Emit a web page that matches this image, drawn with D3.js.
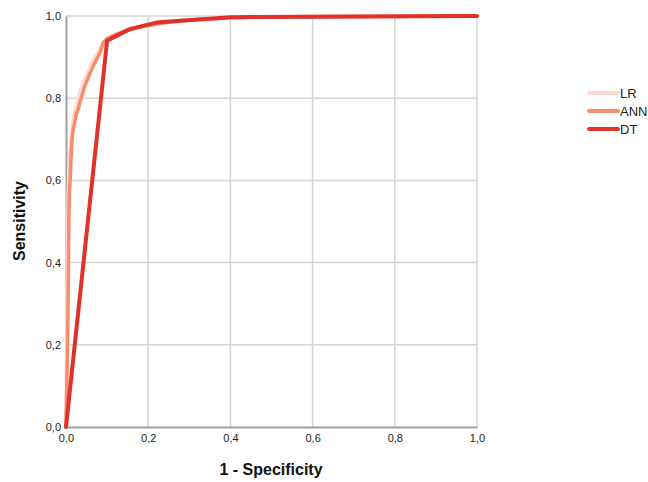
<!DOCTYPE html>
<html><head><meta charset="utf-8">
<script src="https://cdn.jsdelivr.net/npm/d3@7"></script>
<style>body{margin:0;background:#fff;overflow:hidden}svg{display:block}</style>
</head><body>
<svg id="c" width="648" height="482"></svg>
<script>
const ticks = [0, 0.2, 0.4, 0.6, 0.8, 1.0];
const seriesNames = ["LR", "ANN", "DT"];
const seriesColors = ["#fadcd2", "#f98c6c", "#e0312a"];
const lrX = [0, 0.001, 0.003, 0.004, 0.005, 0.007, 0.009, 0.012, 0.015, 0.018, 0.022, 0.027, 0.032, 0.038, 0.045, 0.052, 0.06, 0.07, 0.08, 0.09, 0.1, 0.12, 0.15, 0.19, 0.25, 0.3, 0.4, 0.5, 0.7, 1.0];
const lrY = [0, 0.12, 0.32, 0.45, 0.56, 0.62, 0.66, 0.7, 0.73, 0.75, 0.77, 0.79, 0.81, 0.83, 0.845, 0.86, 0.88, 0.9, 0.915, 0.935, 0.945, 0.955, 0.967, 0.977, 0.987, 0.991, 0.996, 0.998, 0.999, 1.0];
const annX = [0, 0.002, 0.004, 0.005, 0.006, 0.007, 0.008, 0.01, 0.012, 0.014, 0.017, 0.02, 0.025, 0.03, 0.034, 0.04, 0.046, 0.052, 0.058, 0.066, 0.072, 0.08, 0.086, 0.091, 0.1, 0.12, 0.15, 0.19, 0.25, 0.3, 0.4, 0.5, 0.7, 1.0];
const annY = [0, 0.1, 0.22, 0.3, 0.4, 0.5, 0.57, 0.6, 0.65, 0.69, 0.72, 0.735, 0.76, 0.775, 0.79, 0.81, 0.83, 0.845, 0.86, 0.877, 0.89, 0.905, 0.92, 0.935, 0.945, 0.955, 0.965, 0.975, 0.985, 0.99, 0.996, 0.998, 0.999, 1.0];
const dtX = [0, 0.1, 0.155, 0.22, 0.4, 1.0];
const dtY = [0, 0.94, 0.968, 0.984, 0.997, 1.0];

const svg = d3.select("#c");
const x = d3.scaleLinear().domain([0, 1]).range([66, 477]);
const y = d3.scaleLinear().domain([0, 1]).range([427, 16]);

// grid
const g = svg.append("g");
g.selectAll(".vx").data(ticks.slice(1)).join("line")
  .attr("x1", d => x(d)).attr("x2", d => x(d)).attr("y1", y(0)).attr("y2", y(1))
  .attr("stroke", "#d4d4d4").attr("stroke-width", 1.5);
g.selectAll(".hy").data(ticks.slice(1)).join("line")
  .attr("x1", x(0)).attr("x2", x(1)).attr("y1", d => y(d)).attr("y2", d => y(d))
  .attr("stroke", "#d4d4d4").attr("stroke-width", 1.5);

// axes
const xAxis = d3.axisBottom(x).tickValues(ticks).tickFormat(d => d3.format(".1f")(d).replace(".", ",")).tickSize(0).tickPadding(7);
const yAxis = d3.axisLeft(y).tickValues(ticks).tickFormat(d => d3.format(".1f")(d).replace(".", ",")).tickSize(0).tickPadding(5);
const ax = svg.append("g").attr("transform", `translate(0,${y(0)})`).call(xAxis);
const ay = svg.append("g").attr("transform", `translate(${x(0)},0)`).call(yAxis);
[ax, ay].forEach(a => {
  a.select(".domain").attr("stroke", "#a0a0a0").attr("stroke-width", 2);
  a.selectAll("text").attr("font-family", "Liberation Sans, Arial, sans-serif").attr("font-size", 11).attr("fill", "#222");
});

// lines
const line = d3.line().x(d => x(d[0])).y(d => y(d[1]));
const data = [d3.zip(lrX, lrY), d3.zip(annX, annY), d3.zip(dtX, dtY)];
svg.append("g").selectAll("path").data(data).join("path")
  .attr("d", line).attr("fill", "none")
  .attr("stroke", (d, i) => seriesColors[i])
  .attr("stroke-width", (d, i) => i === 2 ? 4 : 3.5)
  .attr("stroke-linejoin", "round").attr("stroke-linecap", "round");

// legend
const lg = svg.append("g").selectAll("g").data(seriesNames).join("g")
  .attr("transform", (d, i) => `translate(589,${93 + i * 18})`);
lg.append("line").attr("x1", 0).attr("x2", 29).attr("y1", 0).attr("y2", 0)
  .attr("stroke", (d, i) => seriesColors[i]).attr("stroke-width", 4).attr("stroke-linecap", "round");
lg.append("text").attr("x", 31).attr("y", 5).text(d => d)
  .attr("font-family", "Liberation Sans, Arial, sans-serif").attr("font-size", 13).attr("fill", "#222");

// titles
svg.append("text").attr("x", 271).attr("y", 475).attr("text-anchor", "middle")
  .attr("font-family", "Liberation Sans, Arial, sans-serif").attr("font-size", 16).attr("font-weight", "bold")
  .attr("fill", "#111").text("1 - Specificity");
svg.append("text").attr("transform", "translate(25,221) rotate(-90)").attr("text-anchor", "middle")
  .attr("font-family", "Liberation Sans, Arial, sans-serif").attr("font-size", 16).attr("font-weight", "bold")
  .attr("fill", "#111").text("Sensitivity");
</script>
</body></html>
